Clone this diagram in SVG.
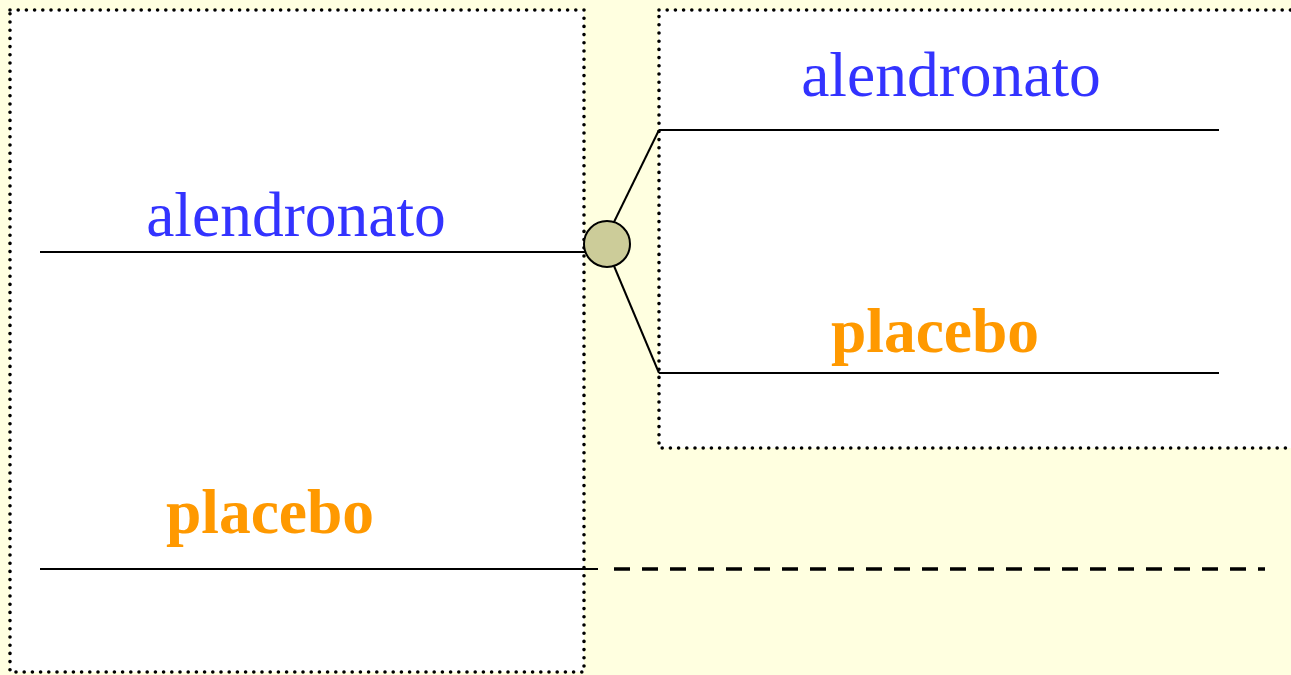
<svg xmlns="http://www.w3.org/2000/svg" width="1291" height="675" viewBox="0 0 1291 675">
<style>
.box{fill:#ffffff;stroke:#000;stroke-width:3.6;stroke-dasharray:0 8.2;stroke-linecap:round}
.ln{stroke:#000;stroke-width:2;fill:none}
.dash{stroke:#000;stroke-width:3.5;stroke-dasharray:16 12;fill:none}
.alen{font-family:"Liberation Serif",serif;font-size:63.5px;fill:#3333ff;text-anchor:middle}
.plac{font-family:"Liberation Serif",serif;font-size:63.5px;font-weight:bold;fill:#ff9900;text-anchor:middle}
</style>
<rect x="0" y="0" width="1291" height="675" fill="#ffffe0"/>
<g id="box-left"><rect class="box" x="10" y="10" width="574" height="662"/></g>
<g id="box-right"><rect class="box" x="659" y="10" width="660" height="438"/></g>
<g id="connectors">
<line class="ln" x1="40" y1="252" x2="586" y2="252"/>
<line class="ln" x1="40" y1="569" x2="598" y2="569"/>
<line class="dash" x1="614" y1="569" x2="1265" y2="569"/>
<line class="ln" x1="659" y1="130" x2="1219" y2="130"/>
<line class="ln" x1="659" y1="373" x2="1219" y2="373"/>
<line class="ln" x1="614" y1="222" x2="659" y2="130"/>
<line class="ln" x1="614" y1="266" x2="659" y2="373"/>
</g>
<g id="node-circle"><circle cx="607" cy="244" r="23" fill="#cccc99" stroke="#000" stroke-width="2"/></g>
<g id="label-left-alendronato"><text class="alen" x="296" y="236">alendronato</text></g>
<g id="label-left-placebo"><text class="plac" x="270" y="533">placebo</text></g>
<g id="label-right-alendronato"><text class="alen" x="951" y="96">alendronato</text></g>
<g id="label-right-placebo"><text class="plac" x="935" y="352">placebo</text></g>
</svg>
